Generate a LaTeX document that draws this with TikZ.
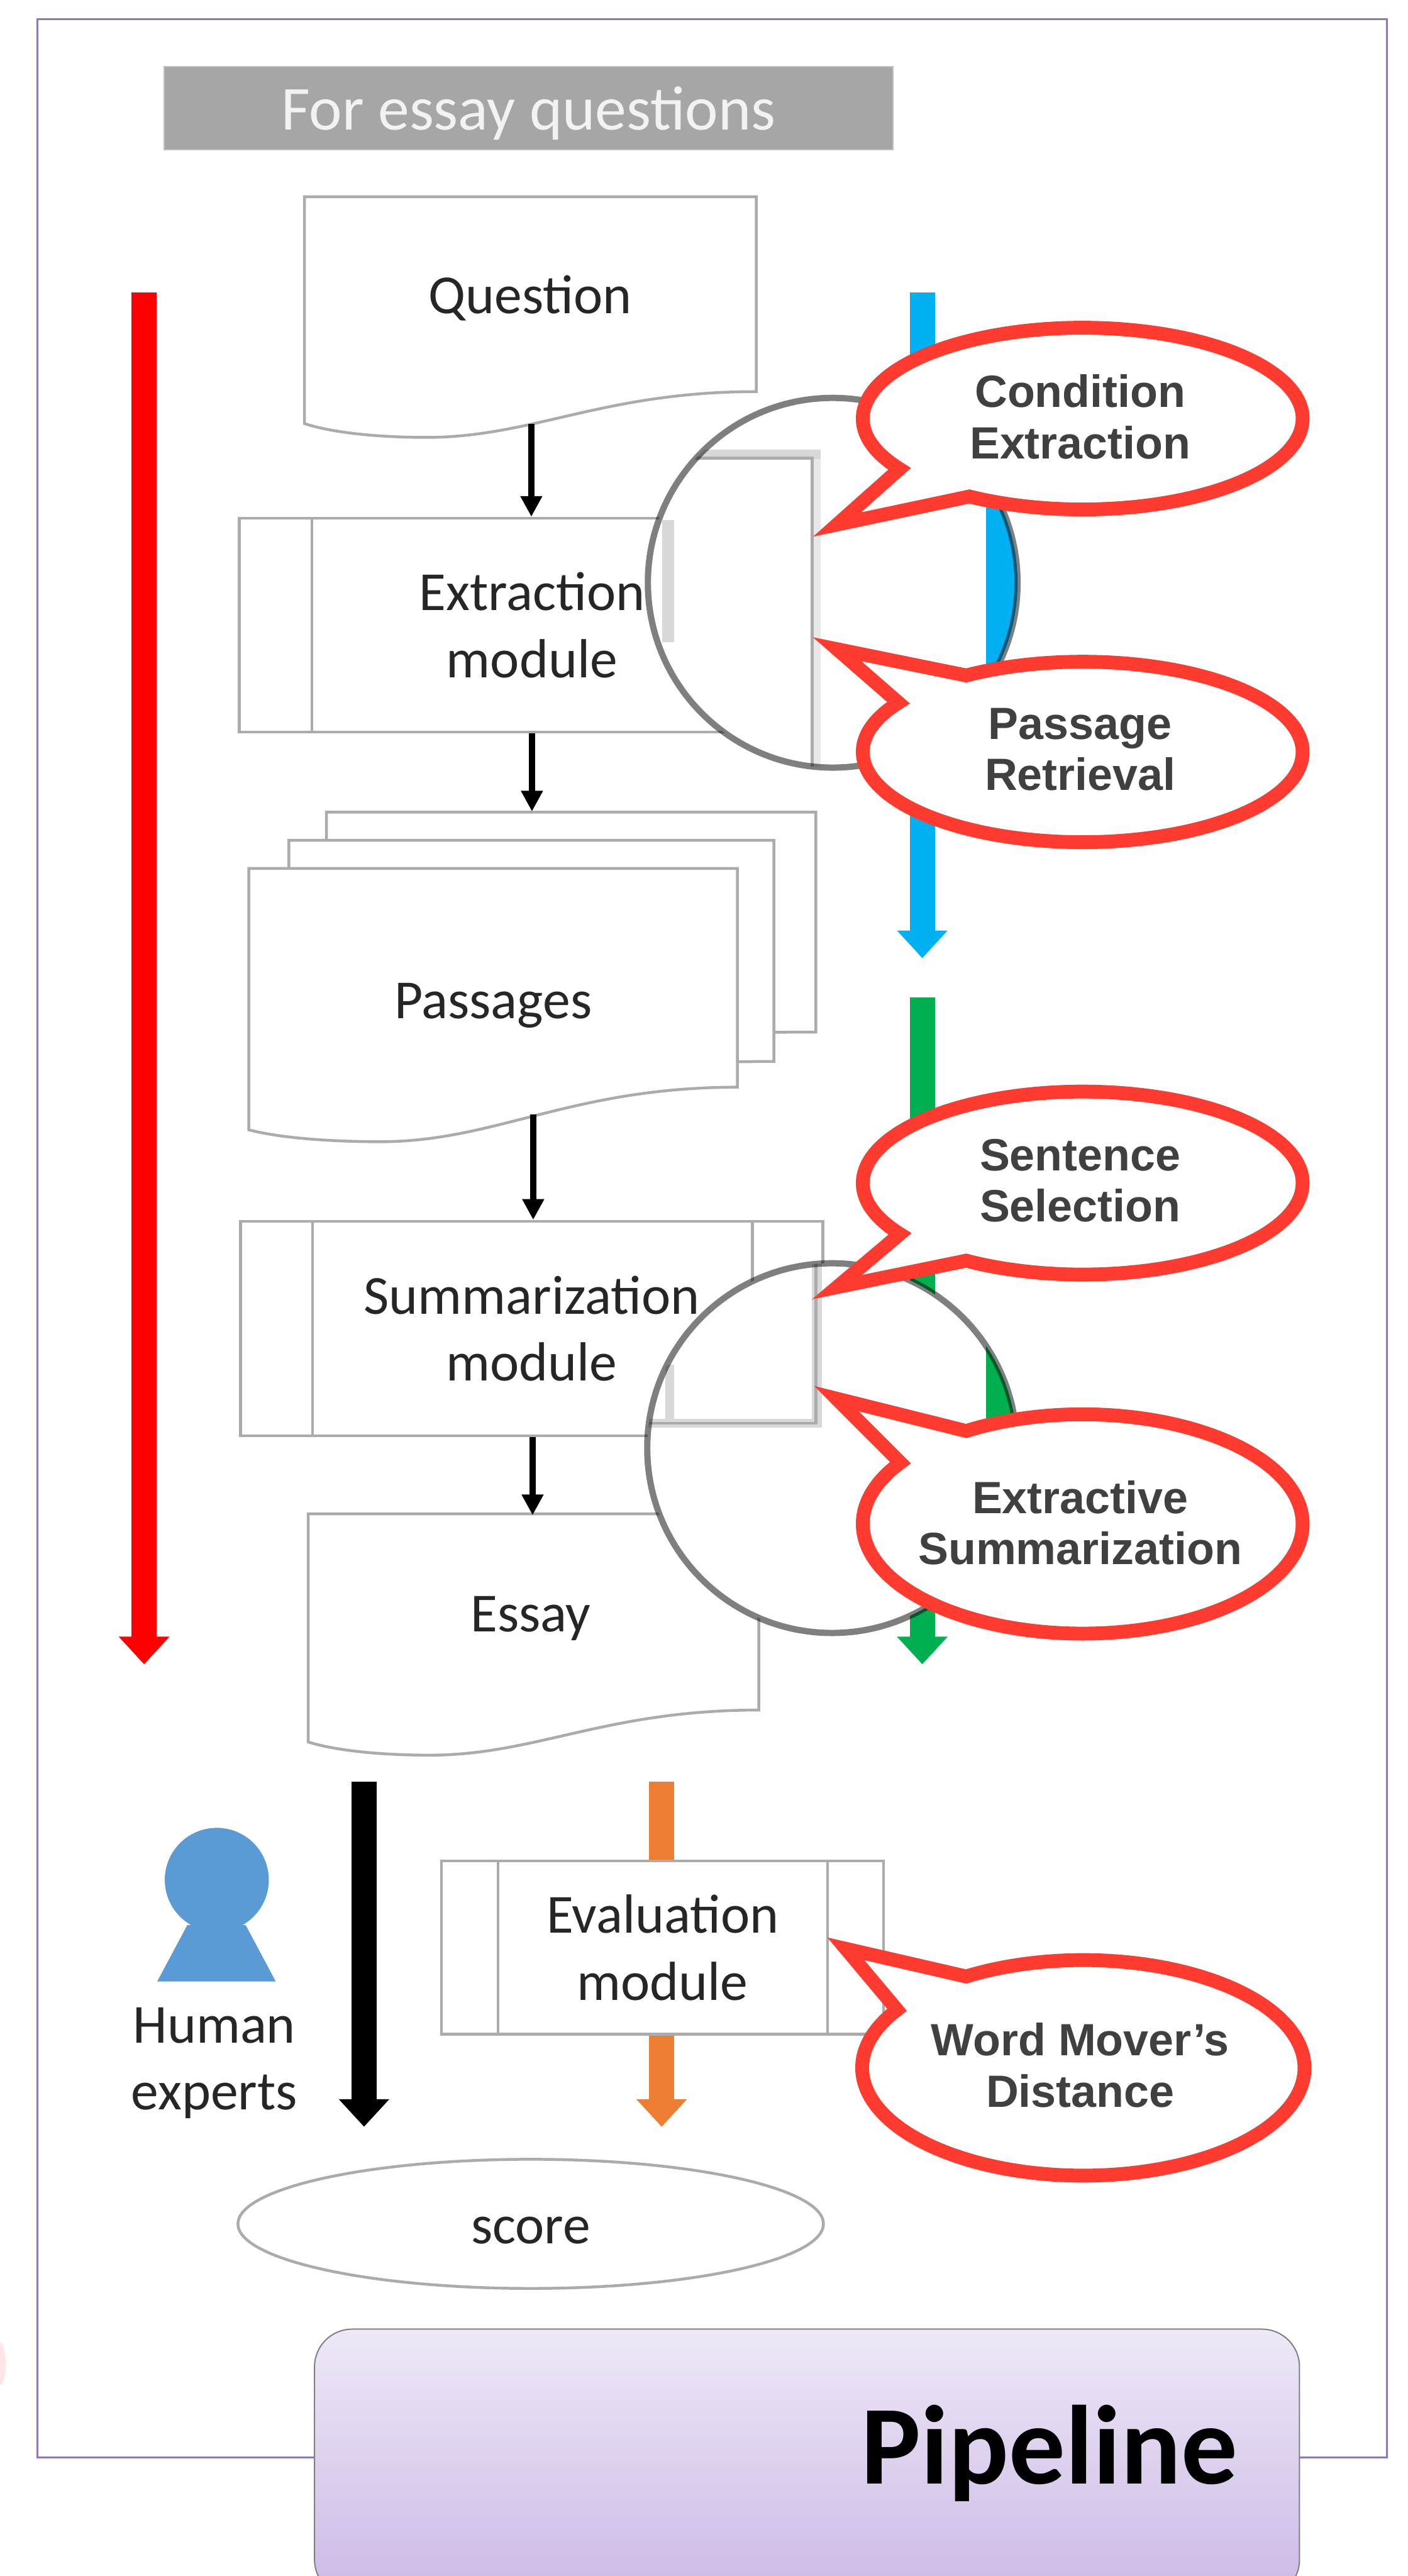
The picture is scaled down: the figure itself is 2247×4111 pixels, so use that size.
\documentclass[tikz,border=0pt]{standalone}
\usepackage{fontspec}
\setmainfont{Carlito}
\newfontfamily\calloutfont{Liberation Sans}
\usetikzlibrary{arrows.meta,shapes.geometric,calc}
\definecolor{frameC}{HTML}{8E78B8}
\definecolor{boxline}{HTML}{ABABAB}
\definecolor{lensband}{HTML}{D8D8D8}
\definecolor{redC}{HTML}{FF0000}
\definecolor{blueC}{HTML}{00B0F0}
\definecolor{greenC}{HTML}{00B050}
\definecolor{orangeC}{HTML}{ED7D31}
\definecolor{personC}{HTML}{5B9BD5}
\definecolor{calloutC}{HTML}{FF3B30}
\definecolor{ink}{HTML}{262626}
\definecolor{callink}{HTML}{404040}
\definecolor{pipeTop}{HTML}{EEE8F7}
\definecolor{pipeBot}{HTML}{CBB9E6}
\newcommand{\docshape}[6]{%
  \pgfmathsetmacro{\dw}{#3-#1}%
  \pgfmathsetmacro{\xm}{#1+0.27*\dw}%
  \pgfmathsetmacro{\ca}{#3-0.34*\dw}%
  \pgfmathsetmacro{\cb}{#3-0.495*\dw}%
  \pgfmathsetmacro{\cc}{\xm-0.11*\dw}%
  \pgfmathsetmacro{\cd}{#1+0.06*\dw}%
  \pgfmathsetmacro{\ce}{#5+0.65*(#6-#5)}%
  \draw[docline] (#1,-#2) -- (#3,-#2) -- (#3,-#4)
    .. controls (\ca,-#4) and (\cb,-#6) .. (\xm,-#6)
    .. controls (\cc,-#6) and (\cd,-\ce) .. (#1,-#5) -- cycle;
}
\tikzset{
  docline/.style={draw=boxline,fill=white,line width=0.045cm,line join=miter},
  modbox/.style={draw=boxline,fill=white,line width=0.045cm,rectangle,inner sep=0pt,align=center,text=ink,
    font=\fontsize{25}{30.4}\selectfont},
  modline/.style={draw=boxline,line width=0.045cm},
  lbl/.style={inner sep=0pt,anchor=base,align=center,text=ink,font=\fontsize{25}{30.4}\selectfont},
  small arrow/.style={draw=black,line width=0.1cm,-{Triangle[length=0.33cm,width=0.33cm]}},
  big arrow/.style={line width=0.4cm,-{Triangle[length=0.44cm,width=0.78cm]}},
  lens/.style={draw=black,draw opacity=0.5,line width=0.1cm},
  calloutshape/.style={draw=calloutC,fill=white,line width=0.22cm,line join=miter,miter limit=10},
  callouttext/.style={inner sep=0pt,align=center,text=callink,
    font=\calloutfont\bfseries\fontsize{20.5}{23.3}\selectfont},
}
\begin{document}
\begin{tikzpicture}[x=0.01cm,y=0.01cm]
\useasboundingbox (0,0) rectangle (2247,-4111);
\clip (0,0) rectangle (2247,-4111);
\fill[white] (0,0) rectangle (2247,-4111);
% smudge at the left edge
\fill[red!10] (0,-3772) circle[x radius=9,y radius=34];
% frame
\draw[frameC,line width=0.03cm] (60,-31) rectangle (2214,-3922);
% header
\node[rectangle,fill=black!35,draw=black!25,line width=0.02cm,minimum width=11.63cm,minimum height=1.33cm,inner sep=0pt,
  text=white!95!black,font=\fontsize{28.4}{34}\selectfont,text height=0.70cm,text depth=0cm] (header) at (843.5,-172.5) {For essay questions};
% long coloured arrows
\coordinate (redS) at (230,-467);   \coordinate (redE) at (230,-2656);
\coordinate (blueS) at (1472,-467); \coordinate (blueE) at (1472,-1529);
\coordinate (greenS) at (1472,-1592); \coordinate (greenE) at (1472,-2656);
\coordinate (humanS) at (581,-2843); \coordinate (humanE) at (581,-3394);
\coordinate (evalS) at (1056,-2843); \coordinate (evalE) at (1056,-3394);
\draw[big arrow,draw=redC] (redS) -- (redE);
\draw[big arrow,draw=blueC] (blueS) -- (blueE);
\draw[big arrow,draw=greenC] (greenS) -- (greenE);
\draw[big arrow,draw=black] (humanS) -- (humanE);
\draw[big arrow,draw=orangeC] (evalS) -- (evalE);
% documents
\docshape{486}{314}{1207}{625}{676}{698}
\node[lbl] (question) at (846,-500) {Question};
\docshape{521}{1296}{1302}{1647}{1660}{1670}
\docshape{461}{1341}{1235}{1694}{1710}{1720}
\docshape{397}{1386}{1177}{1735}{1803}{1822}
\node[lbl] (passages) at (787,-1625) {Passages};
\docshape{492}{2416}{1211}{2729}{2780}{2801}
\node[lbl] (essay) at (847,-2604) {Essay};
% modules
\node[modbox,minimum width=9.34cm,minimum height=3.41cm] (ext) at (849,-997.5) {Extraction\\module};
\draw[modline] (498,-827) -- (498,-1168);
\node[modbox,minimum width=9.29cm,minimum height=3.42cm] (sum) at (848.5,-2120) {Summarization\\module};
\draw[modline] (499,-1949) -- (499,-2291) (1201,-1949) -- (1201,-2291);
\node[modbox,minimum width=7.05cm,minimum height=2.76cm] (eval) at (1057.5,-3108) {Evaluation\\module};
\draw[modline] (795,-2970) -- (795,-3246) (1321,-2970) -- (1321,-3246);
% score
\node[ellipse,draw=boxline,fill=white,line width=0.045cm,minimum width=9.34cm,minimum height=2.06cm,inner sep=0pt,
  text=ink,font=\fontsize{25}{30}\selectfont,text height=0.62cm,text depth=0cm] (score) at (847,-3549) {score};
% person
\fill[personC] (299,-3072) -- (392,-3072) -- (440,-3162) -- (251,-3162) -- cycle;
\fill[personC] (346,-3000) circle[x radius=83,y radius=83];
\node[lbl] (human) at (342,-3367) {Human\\experts};
% small arrows
\coordinate (qOut) at (848,-676);
\coordinate (pOut) at (851,-1778);
\coordinate (pIn) at (849,-1295);
\coordinate (eIn) at (850,-2418);
\draw[small arrow] (qOut) -- (qOut |- ext.north);
\draw[small arrow] (pIn |- ext.south) -- (pIn);
\draw[small arrow] (pOut) -- (pOut |- sum.north);
\draw[small arrow] (eIn |- sum.south) -- (eIn);
% lens 1
\coordinate (lensA) at (1329,-930);
\fill[white] (lensA) circle[radius=295];
\begin{scope}
  \clip (lensA) circle[radius=295];
  \fill[blueC] (1574,-700) rectangle (1640,-1160);
  \fill[lensband] (1057,-830) rectangle (1076,-1025);
  \fill[lensband] (1076,-718) rectangle (1310,-733);
  \fill[lensband!60!white] (1296,-733) rectangle (1310,-1240);
  \draw[modline] (1076,-731) -- (1296,-731) -- (1296,-1240);
\end{scope}
\draw[lens] (lensA) circle[radius=295];
% lens 2
\coordinate (lensB) at (1328,-2311);
\fill[white] (lensB) circle[radius=295];
\begin{scope}
  \clip (lensB) circle[radius=295];
  \fill[greenC] (1574,-2100) rectangle (1640,-2300);
  \fill[lensband] (1062,-2178) rectangle (1076,-2276);
  \fill[lensband] (1296,-2000) rectangle (1312,-2278);
  \fill[lensband] (1030,-2264) rectangle (1312,-2278);
  \draw[modline] (1030,-2271) -- (1302,-2271) -- (1302,-2000);
\end{scope}
\draw[lens] (lensB) circle[radius=295];
% callouts
\coordinate (cA) at (1728,-668);
\coordinate (tA) at (1336,-837);
\draw[calloutshape] (cA) ++(213.6:351 and 145) arc[start angle=213.6,end angle=-121,x radius=351,y radius=145] -- (tA) -- cycle;
\node[callouttext] (condition) at (1724,-665) {Condition\\Extraction};
\coordinate (cB) at (1728,-1200);
\coordinate (tB) at (1336,-1036);
\draw[calloutshape] (cB) ++(146.9:351 and 144) arc[start angle=146.9,end angle=482,x radius=351,y radius=144] -- (tB) -- cycle;
\node[callouttext] (passage) at (1724,-1196) {Passage\\Retrieval};
\coordinate (cC) at (1728,-1888);
\coordinate (tC) at (1336,-2054);
\draw[calloutshape] (cC) ++(213.8:351 and 146) arc[start angle=213.8,end angle=-122,x radius=351,y radius=146] -- (tC) -- cycle;
\node[callouttext] (sentence) at (1724,-1884) {Sentence\\Selection};
\coordinate (cD) at (1728,-2432);
\coordinate (tD) at (1335,-2232);
\draw[calloutshape] (cD) ++(146:351 and 175) arc[start angle=146,end angle=482,x radius=351,y radius=175] -- (tD) -- cycle;
\node[callouttext] (extractive) at (1724,-2430) {Extractive\\Summarization};
\coordinate (cE) at (1729,-3300);
\coordinate (tE) at (1350,-3110);
\draw[calloutshape] (cE) ++(147.4:353 and 172) arc[start angle=147.4,end angle=482,x radius=353,y radius=172] -- (tE) -- cycle;
\node[callouttext] (wmd) at (1724,-3296) {Word Mover’s\\Distance};
% pipeline box
\draw[draw=black!50,line width=0.02cm,rounded corners=0.6cm,top color=pipeTop,bottom color=pipeBot] (502,-3717) rectangle (2074,-4145);
\node[inner sep=0pt,anchor=base,text=black,font=\bfseries\fontsize{51}{60}\selectfont] (pipeline) at (1675,-3964) {Pipeline};
\end{tikzpicture}
\end{document}
